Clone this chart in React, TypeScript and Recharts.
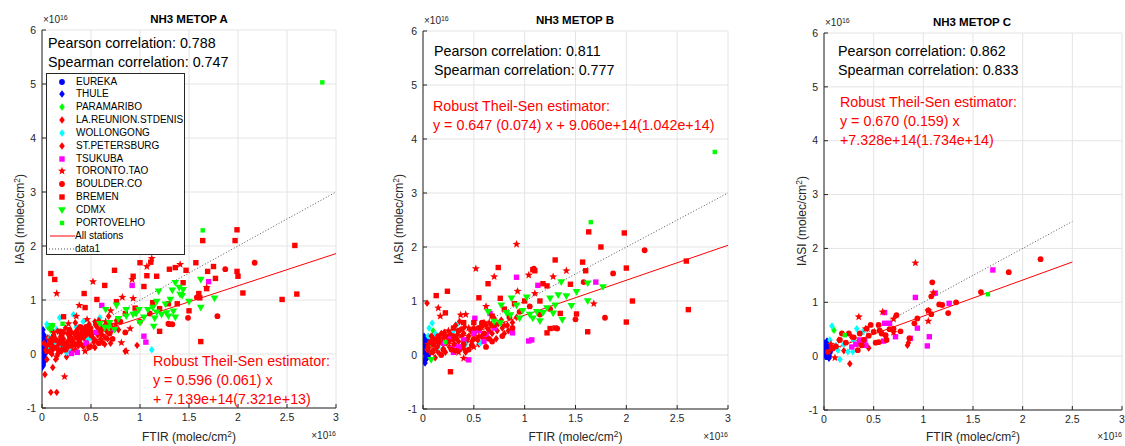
import { CartesianGrid, ReferenceLine, Scatter, ScatterChart, XAxis, YAxis } from "recharts";

type Pt = [number, number];

// values are in units of 1e16 molec/cm2
const X_TICKS = [0, 0.5, 1, 1.5, 2, 2.5, 3];
const Y_TICKS = [-1, 0, 1, 2, 3, 4, 5, 6];

const STATION_NAMES = [
  "EUREKA", "THULE", "PARAMARIBO", "LA.REUNION.STDENIS", "WOLLONGONG", "ST.PETERSBURG",
  "TSUKUBA", "TORONTO.TAO", "BOULDER.CO", "BREMEN", "CDMX", "PORTOVELHO",
];

const PANEL_TITLES = ["NH3 METOP A", "NH3 METOP B", "NH3 METOP C"];
const PEARSON = ["0.788", "0.811", "0.862"];
const SPEARMAN = ["0.747", "0.777", "0.833"];
const FIT_SLOPE = [0.596, 0.647, 0.67];
const FIT_INTERCEPT = [0.07139, 0.0906, 0.07328];
const FIT_XEND = [3, 3, 2.5];
const FIT_TEXT = [
  ["Robust Theil-Sen estimator:", "y = 0.596 (0.061) x", "+ 7.139e+14(7.321e+13)"],
  ["Robust Theil-Sen estimator:", "y = 0.647 (0.074) x + 9.060e+14(1.042e+14)"],
  ["Robust Theil-Sen estimator:", "y = 0.670 (0.159) x", "+7.328e+14(1.734e+14)"],
];

// ---------- METOP A ----------
const A_EUREKA: Pt[] = [[0.01, 0.05], [0.02, 0.12], [0.0, 0.2], [0.01, 0.3], [0.02, -0.05], [0.01, -0.12], [0.03, 0.02], [0.0, 0.38], [0.02, 0.25], [0.01, -0.2], [0.03, 0.15], [0.0, 0.08]];
const A_THULE: Pt[] = [[0.01, 0.45], [0.02, 0.35], [0.0, -0.25], [0.01, 0.0], [0.02, -0.15], [0.03, 0.3], [0.0, 0.18], [0.02, 0.1], [0.01, -0.08], [0.03, 0.22]];
const A_PARAMARIBO: Pt[] = [[0.06, 0.5], [0.11, 0.52], [0.09, 0.44]];
const A_LAREUNION: Pt[] = [[0.09, -0.71], [0.15, -0.71], [0.03, -0.38], [0.11, -0.25], [0.85, 0.05], [0.97, 0.16], [0.62, 0.21], [0.54, 0.12], [0.34, 0.08], [0.42, 0.14], [0.2, 0.05], [0.1, 0.0], [0.25, -0.05], [0.3, 0.3], [0.15, 0.1], [0.05, -0.1], [0.45, 0.25], [0.5, 0.42], [0.38, 0.35], [0.22, 0.28], [0.07, 0.2], [0.13, 0.3], [0.17, 0.18], [0.23, 0.12], [0.27, 0.25], [0.33, 0.38], [0.37, 0.15], [0.43, 0.3], [0.47, 0.45], [0.53, 0.22], [0.57, 0.35], [0.63, 0.5], [0.67, 0.28], [0.72, 0.45], [0.06, 0.3], [0.19, 0.32], [0.31, 0.05], [0.41, 0.48], [0.24, 0.48], [0.11, 0.08]];
const A_WOLLONGONG: Pt[] = [[0.05, 0.55], [0.18, 0.67], [0.32, 0.73], [0.59, 0.67], [1.12, 0.08], [0.25, 0.03], [0.47, 0.27], [0.08, 0.3], [0.12, 0.2], [0.2, 0.15], [0.35, 0.5], [0.42, 0.6], [0.15, 0.45], [0.28, 0.1], [0.5, 0.3], [0.06, 0.1]];
const A_STPETERSBURG: Pt[] = [[0.05, 0.15], [0.08, 0.25], [0.12, 0.35], [0.18, 0.2], [0.22, 0.4], [0.28, 0.32], [0.32, 0.22], [0.36, 0.45], [0.4, 0.18], [0.46, 0.38], [0.52, 0.3], [0.56, 0.5], [0.6, 0.38], [0.66, 0.42], [0.7, 0.2], [0.26, 0.12], [0.14, -0.1], [0.08, 0.05], [0.02, 0.2], [0.16, 0.42], [0.48, 0.55], [0.58, 0.62], [0.68, 0.7], [0.78, 0.45], [0.34, 0.58], [0.04, 0.08], [0.1, 0.22], [0.2, 0.3], [0.3, 0.4], [0.4, 0.36], [0.5, 0.48], [0.6, 0.28], [0.7, 0.55], [0.16, 0.0], [0.26, 0.38], [0.36, 0.3], [0.46, 0.2], [0.56, 0.4], [0.66, 0.55], [0.76, 0.62], [0.44, 0.42], [0.54, 0.6], [0.64, 0.18], [0.12, 0.3], [0.22, 0.18]];
const A_TSUKUBA: Pt[] = [[0.92, 1.27], [1.7, 1.34], [1.04, 0.33], [1.06, 0.22], [0.61, 0.9], [0.36, 0.03], [0.73, 0.46], [0.3, 0.01], [0.55, 0.4], [0.45, 0.2]];
const A_TORONTO: Pt[] = [[0.15, 1.12], [0.52, 1.34], [0.38, 0.9], [0.9, 0.47], [0.86, 0.05], [0.23, -0.42], [1.41, 1.66], [1.12, 1.77], [1.07, 1.62], [0.92, 1.38], [0.93, 1.03], [0.46, 0.64], [0.59, 0.51], [0.27, 0.56], [0.35, 0.7], [0.29, 0.36], [0.81, 0.21], [1.68, 1.23], [0.7, 0.8], [0.82, 1.05], [0.1, 0.3], [0.2, 0.1], [0.4, 0.45], [0.55, 0.25], [0.65, 0.6], [0.15, -0.05], [0.3, 0.2], [0.5, 0.15], [0.12, 0.4], [0.62, 0.35], [0.75, 0.55], [0.08, 0.18], [0.44, 0.05]];
const A_BOULDER: Pt[] = [[1.87, 1.57], [2.17, 1.69], [1.79, 0.7], [1.49, 0.67], [1.33, 0.55], [1.29, 0.56], [1.58, 1.05], [0.7, 0.5], [0.6, 0.45], [0.5, 0.35], [0.4, 0.3], [0.35, 0.4], [0.25, 0.2], [0.2, 0.35], [0.1, 0.15], [0.15, 0.25], [0.3, 0.15], [0.45, 0.5], [0.55, 0.55], [0.65, 0.3], [0.8, 0.6], [0.85, 0.4], [0.05, 0.05], [0.18, 0.05], [0.28, 0.45], [0.38, 0.22], [0.48, 0.12], [0.58, 0.2], [0.72, 0.28], [1.0, 0.6], [1.1, 0.75], [0.09, 0.25], [0.19, 0.42], [0.29, 0.28], [0.39, 0.5], [0.49, 0.38], [0.59, 0.52], [0.69, 0.38], [0.24, 0.08], [0.34, 0.18], [0.44, 0.35]];
const A_BREMEN: Pt[] = [[1.99, 2.3], [1.64, 2.1], [1.97, 2.1], [2.58, 2.01], [1.57, 1.69], [1.75, 1.62], [1.99, 1.53], [2.0, 1.44], [1.69, 1.53], [1.77, 1.4], [1.47, 1.55], [1.3, 1.57], [1.36, 1.6], [1.07, 1.45], [1.17, 1.44], [1.0, 1.69], [1.11, 1.7], [2.05, 1.13], [2.6, 1.11], [2.45, 1.01], [0.09, 1.49], [0.13, 1.38], [0.22, 0.69], [0.43, 1.12], [0.74, 1.55], [0.64, 1.27], [0.56, 1.01], [0.76, 0.97], [0.44, 0.86], [1.62, 0.23], [1.5, 0.8], [1.38, 0.93], [1.61, 1.04], [1.68, 1.21], [1.6, 1.12], [1.04, 1.25], [0.93, 1.44], [1.13, 0.95], [1.2, 0.84], [1.31, 0.55], [1.2, 0.42], [1.29, 0.93], [1.44, 1.32], [0.85, 0.75], [0.95, 0.85], [0.35, 0.3], [0.2, 0.25], [0.6, 0.45], [0.42, 0.4], [0.12, 0.12]];
const A_CDMX: Pt[] = [[1.62, 1.38], [1.76, 1.03], [1.62, 0.86], [1.5, 0.97], [1.36, 1.32], [1.4, 1.23], [1.44, 1.19], [1.43, 1.08], [1.33, 1.18], [1.19, 1.16], [1.31, 1.01], [1.26, 0.92], [1.17, 0.97], [1.13, 0.86], [1.17, 0.77], [1.15, 0.66], [1.22, 0.73], [1.29, 0.7], [1.36, 0.68], [1.34, 0.79], [1.14, 0.51], [0.65, 0.82], [0.76, 0.9], [0.86, 0.82], [0.96, 0.75], [0.99, 0.82], [1.08, 0.82], [0.93, 0.73], [0.86, 0.7], [0.78, 0.65], [0.69, 0.58], [0.68, 0.49], [0.74, 0.45], [1.04, 0.68], [1.0, 0.58], [0.59, 0.56], [0.64, 0.49], [1.27, 0.76], [1.41, 1.1], [0.1, 0.52]];
const A_PORTOVELHO: Pt[] = [[2.86, 5.03], [1.64, 2.29], [0.21, 0.56]];

// ---------- METOP B ----------
const B_EUREKA: Pt[] = [[0.01, 0.05], [0.02, 0.15], [0.0, 0.25], [0.03, -0.05], [0.01, -0.12], [0.04, 0.1], [0.02, 0.3], [0.05, 0.0], [0.0, 0.12], [0.03, 0.2]];
const B_THULE: Pt[] = [[0.01, 0.35], [0.02, -0.15], [0.04, 0.05], [0.0, 0.18], [0.03, -0.08], [0.05, 0.25], [0.02, 0.08]];
const B_PARAMARIBO: Pt[] = [[0.06, 0.2], [0.1, 0.45]];
const B_LAREUNION: Pt[] = [[0.04, 0.96], [0.1, 0.3], [0.2, 0.2], [0.3, 0.1], [0.15, 0.05], [0.25, 0.35], [0.35, 0.25], [0.45, 0.35], [0.55, 0.2], [0.65, 0.45], [0.05, 0.15], [0.12, -0.05], [0.4, 0.4], [0.5, 0.5], [0.6, 0.6], [0.07, 0.25], [0.13, 0.12], [0.17, 0.3], [0.23, 0.22], [0.27, 0.4], [0.33, 0.3], [0.37, 0.12], [0.43, 0.25], [0.47, 0.45], [0.53, 0.3], [0.57, 0.5], [0.63, 0.35], [0.67, 0.55], [0.73, 0.45], [0.77, 0.65], [0.83, 0.55], [0.11, 0.38], [0.21, 0.42], [0.31, 0.2], [0.41, 0.52]];
const B_WOLLONGONG: Pt[] = [[0.09, 0.59], [0.33, 0.55], [0.06, 0.5], [0.56, 0.22], [0.12, 0.4], [0.2, 0.3], [0.3, 0.45], [0.15, 0.15], [0.05, 0.35], [0.42, 0.2]];
const B_STPETERSBURG: Pt[] = [[0.08, 0.35], [0.18, 0.4], [0.28, 0.3], [0.38, 0.35], [0.48, 0.25], [0.58, 0.35], [0.68, 0.4], [0.78, 0.5], [0.22, 0.05], [0.32, 0.55], [0.42, 0.05], [0.52, 0.45], [0.62, 0.55], [0.14, 0.15], [0.72, 0.3], [0.88, 0.6], [0.36, 0.62], [0.26, 0.15], [0.04, 0.1], [0.1, 0.05], [0.16, 0.22], [0.24, 0.32], [0.34, 0.38], [0.44, 0.3], [0.54, 0.28], [0.64, 0.48], [0.74, 0.58], [0.84, 0.45], [0.2, 0.38], [0.3, 0.28], [0.4, 0.12], [0.5, 0.4], [0.6, 0.3], [0.7, 0.68], [0.8, 0.4], [0.92, 0.7]];
const B_TSUKUBA: Pt[] = [[0.92, 1.44], [1.13, 1.29], [1.7, 1.35], [0.45, -0.09], [1.04, 0.26], [1.07, 0.28], [0.88, 0.41], [0.66, 0.77], [0.51, 0.68], [0.29, 0.12], [0.6, 0.25], [0.5, 0.4], [0.35, 0.15], [0.7, 0.5], [0.25, 0.3], [0.4, 0.28], [0.55, 0.45], [0.3, 0.05], [0.62, 0.38], [0.2, 0.22]];
const B_TORONTO: Pt[] = [[0.92, 2.05], [0.52, 1.6], [0.7, 1.45], [1.04, 1.48], [1.28, 1.45], [1.41, 1.56], [1.68, 0.95], [0.15, 0.87], [0.17, 0.72], [0.37, 0.74], [0.42, 0.75], [0.4, -0.06], [1.1, 1.14], [0.93, 1.18], [0.62, 0.9], [0.2, 0.3], [0.3, 0.2], [0.45, 0.5], [0.55, 0.35], [0.1, 0.1], [0.25, 0.45], [0.65, 0.6], [0.8, 0.55], [0.35, 0.05], [0.05, 0.2], [0.5, 0.15]];
const B_BOULDER: Pt[] = [[2.18, 1.94], [1.87, 1.51], [1.79, 0.69], [1.5, 0.66], [1.32, 0.49], [1.09, 1.6], [1.58, 1.35], [0.1, 0.2], [0.2, 0.1], [0.3, 0.35], [0.4, 0.2], [0.5, 0.3], [0.6, 0.4], [0.7, 0.55], [0.15, 0.35], [0.25, 0.25], [0.35, 0.45], [0.45, 0.1], [0.55, 0.5], [0.65, 0.3], [0.75, 0.6], [0.85, 0.7], [0.95, 0.8], [1.05, 0.9], [1.15, 0.75], [1.25, 0.85], [0.08, 0.05], [0.18, 0.0], [0.32, 0.08], [0.62, 0.15], [0.12, 0.28], [0.22, 0.35], [0.28, 0.1], [0.38, 0.48], [0.48, 0.18], [0.58, 0.6], [0.68, 0.25], [0.78, 0.35], [0.88, 0.5]];
const B_BREMEN: Pt[] = [[1.63, 2.28], [1.98, 2.26], [1.75, 2.0], [1.3, 1.76], [1.57, 1.72], [2.0, 1.61], [2.59, 1.74], [2.61, 0.84], [2.06, 1.0], [2.0, 0.61], [1.62, 0.43], [1.22, 0.41], [1.51, 0.76], [1.45, 1.31], [1.18, 1.32], [1.22, 1.28], [1.6, 1.56], [0.74, 1.62], [0.64, 1.32], [0.55, 1.06], [0.24, 1.18], [0.13, 1.1], [0.22, 0.78], [0.27, -0.31], [1.08, 1.58], [1.1, 1.56], [0.76, 1.05], [1.35, 0.77], [1.25, 0.49], [1.3, 0.5], [0.9, 0.95], [1.0, 1.0], [0.8, 0.85], [1.15, 1.0], [0.4, 0.6], [0.3, 0.5], [0.15, 0.25], [0.58, 0.55], [0.5, 0.6], [0.68, 0.72]];
const B_CDMX: Pt[] = [[1.37, 0.65], [1.46, 0.91], [1.51, 1.17], [1.62, 1.0], [1.77, 1.26], [1.62, 1.33], [1.36, 1.35], [1.41, 1.09], [1.33, 1.11], [1.3, 0.92], [1.28, 0.77], [1.15, 0.63], [1.08, 0.68], [1.02, 1.07], [0.92, 0.92], [0.87, 1.05], [0.77, 0.92], [0.64, 0.8], [0.95, 0.68], [0.86, 0.74], [0.76, 0.59], [1.22, 0.87], [0.08, -0.09], [1.12, 0.8], [1.18, 0.78], [0.98, 0.82], [0.82, 0.78], [1.05, 0.75], [0.7, 0.62], [1.25, 1.05]];
const B_PORTOVELHO: Pt[] = [[2.87, 3.76], [1.65, 2.46], [0.22, 0.24]];

// ---------- METOP C ----------
const C_EUREKA: Pt[] = [[0.02, 0.05], [0.03, 0.15], [0.01, 0.1], [0.04, 0.22], [0.05, 0.0], [0.02, 0.18], [0.06, 0.08], [0.03, -0.02], [0.01, 0.25], [0.05, 0.12]];
const C_THULE: Pt[] = [[0.03, 0.28], [0.02, 0.02], [0.04, 0.05], [0.06, 0.2], [0.05, -0.04], [0.07, 0.12]];
const C_PARAMARIBO: Pt[] = [[0.1, 0.48]];
const C_LAREUNION: Pt[] = [[0.26, -0.14], [0.84, 0.2], [0.2, 0.1], [0.28, 0.35], [0.45, 0.15]];
const C_WOLLONGONG: Pt[] = [[0.08, 0.56], [0.33, 0.51], [0.16, -0.06], [0.24, 0.08], [0.29, 0.08], [0.14, 0.11], [0.39, 0.45], [0.06, 0.3], [0.12, 0.2], [0.2, 0.22], [0.3, 0.3]];
const C_STPETERSBURG: Pt[] = [[0.1, 0.15], [0.15, 0.3], [0.35, 0.25], [0.85, 0.25]];
const C_TSUKUBA: Pt[] = [[1.7, 1.6], [0.92, 1.09], [1.12, 1.17], [1.26, 0.98], [0.61, 0.81], [0.61, 0.61], [0.66, 0.61], [0.94, 0.52], [0.72, 0.36], [0.6, 0.28], [1.06, 0.36], [1.04, 0.19], [0.87, 0.33], [0.41, 0.3], [0.36, 0.3], [0.28, 0.17], [0.42, 0.2], [0.32, 0.22]];
const C_TORONTO: Pt[] = [[0.92, 1.73], [0.59, 0.82], [0.7, 0.69], [0.7, 0.44], [1.05, 0.84], [1.05, 0.65], [1.1, 1.18], [0.35, 0.73], [0.11, -0.03], [0.42, 0.51], [0.07, 0.22]];
const C_BOULDER: Pt[] = [[2.18, 1.8], [1.86, 1.56], [1.58, 1.19], [1.09, 1.37], [1.08, 1.11], [1.16, 0.96], [1.19, 0.95], [1.33, 1.0], [1.25, 0.8], [1.08, 0.78], [1.05, 0.85], [0.94, 0.7], [0.91, 0.61], [0.86, 0.33], [0.73, 0.76], [0.77, 0.46], [0.7, 0.51], [0.62, 0.39], [0.63, 0.3], [0.55, 0.26], [0.52, 0.25], [0.56, 0.48], [0.55, 0.58], [0.47, 0.58], [0.43, 0.51], [0.36, 0.42], [0.34, 0.11], [0.18, 0.42], [0.25, 0.42], [0.16, 0.3], [0.08, 0.14], [0.04, 0.08], [0.3, 0.35], [0.45, 0.38], [0.5, 0.45], [0.58, 0.42], [0.66, 0.5], [0.38, 0.2], [0.22, 0.25], [0.12, 0.18], [0.4, 0.3]];
const C_BREMEN: Pt[] = [];
const C_CDMX: Pt[] = [];
const C_PORTOVELHO: Pt[] = [[1.65, 1.15], [0.21, 0.39]];

const SERIES_A = [A_EUREKA, A_THULE, A_PARAMARIBO, A_LAREUNION, A_WOLLONGONG, A_STPETERSBURG, A_TSUKUBA, A_TORONTO, A_BOULDER, A_BREMEN, A_CDMX, A_PORTOVELHO];
const SERIES_B = [B_EUREKA, B_THULE, B_PARAMARIBO, B_LAREUNION, B_WOLLONGONG, B_STPETERSBURG, B_TSUKUBA, B_TORONTO, B_BOULDER, B_BREMEN, B_CDMX, B_PORTOVELHO];
const SERIES_C = [C_EUREKA, C_THULE, C_PARAMARIBO, C_LAREUNION, C_WOLLONGONG, C_STPETERSBURG, C_TSUKUBA, C_TORONTO, C_BOULDER, C_BREMEN, C_CDMX, C_PORTOVELHO];
const ALL_SERIES = [SERIES_A, SERIES_B, SERIES_C];

// marker style per station (same order as STATION_NAMES)
const MARKERS = [
  { kind: "circle", color: "#0000ff" },
  { kind: "diamond", color: "#0000ff" },
  { kind: "diamond", color: "#00ff00" },
  { kind: "diamond", color: "#ff0000" },
  { kind: "diamond", color: "#00ffff" },
  { kind: "diamond", color: "#ff0000" },
  { kind: "square", color: "#ff00ff" },
  { kind: "star", color: "#ff0000" },
  { kind: "circle", color: "#ff0000" },
  { kind: "square", color: "#ff0000" },
  { kind: "triangle", color: "#00ff00" },
  { kind: "small", color: "#00ff00" },
];

const FONT = '"Liberation Sans", Arial, Helvetica, sans-serif';
const AXIS = "#262626";

// layout of each panel (plot box in page pixels)
const LAYOUT = [
  { left: 0, width: 380, plot: { l: 42, r: 336, t: 30, b: 408 }, title: [189, 20], exTop: [43, 20], exBot: [336, 436], yLab: [20, 219], stats: [48, 44], fit: [153, 362] },
  { left: 380, width: 380, plot: { l: 423, r: 728, t: 31, b: 409 }, title: [575, 21], exTop: [424, 21], exBot: [728, 437], yLab: [399, 219], stats: [434, 52], fit: [433, 107] },
  { left: 760, width: 365, plot: { l: 824, r: 1122, t: 33, b: 410 }, title: [972, 23], exTop: [825, 23], exBot: [1122, 437], yLab: [802, 221], stats: [838, 52], fit: [840, 103] },
];

const SUP: any = { fontSize: "0.7em", position: "relative", top: "-0.45em", verticalAlign: "baseline", lineHeight: 0 };

function starPath(cx: number, cy: number, R: number, r: number) {
  let d = "";
  for (let i = 0; i < 10; i++) {
    const a = -Math.PI / 2 + (i * Math.PI) / 5;
    const rad = i % 2 === 0 ? R : r;
    d += (i === 0 ? "M" : "L") + (cx + rad * Math.cos(a)).toFixed(2) + "," + (cy + rad * Math.sin(a)).toFixed(2);
  }
  return d + "Z";
}

function Marker({ cx, cy, kind, color }: { cx: number; cy: number; kind: string; color: string }) {
  if (cx == null || cy == null) return null;
  switch (kind) {
    case "circle":
      return <circle cx={cx} cy={cy} r={2.9} fill={color} />;
    case "diamond":
      return <path d={`M${cx},${cy - 3.7}L${cx + 2.8},${cy}L${cx},${cy + 3.7}L${cx - 2.8},${cy}Z`} fill={color} />;
    case "square":
      return <rect x={cx - 2.7} y={cy - 2.7} width={5.4} height={5.4} fill={color} />;
    case "small":
      return <rect x={cx - 2.2} y={cy - 2.2} width={4.4} height={4.4} fill={color} />;
    case "star":
      return <path d={starPath(cx, cy, 4.2, 1.8)} fill={color} />;
    case "triangle":
      return <path d={`M${cx - 3.9},${cy - 2.8}L${cx + 3.9},${cy - 2.8}L${cx},${cy + 3.9}Z`} fill={color} />;
    default:
      return null;
  }
}

function Txt({ x, y, size, color = "#000", bold, anchor, children }: any) {
  return (
    <div
      style={{
        position: "absolute",
        left: x,
        top: y - size * 0.6,
        fontSize: size,
        lineHeight: `${size * 1.2}px`,
        whiteSpace: "nowrap",
        color,
        fontWeight: bold ? "bold" : "normal",
        transform: anchor === "middle" ? "translateX(-50%)" : anchor === "end" ? "translateX(-100%)" : undefined,
      }}
    >
      {children}
    </div>
  );
}

function Exponent({ x, y, anchor }: { x: number; y: number; anchor?: string }) {
  return (
    <Txt x={x} y={y} size={10} color={AXIS} anchor={anchor}>
      ×10<span style={SUP}>16</span>
    </Txt>
  );
}

function Panel({ idx }: { idx: number }) {
  const L = LAYOUT[idx];
  const series = ALL_SERIES[idx];
  const slope = FIT_SLOPE[idx];
  const b = FIT_INTERCEPT[idx];
  const xEnd = FIT_XEND[idx];
  const yW = 30;
  const xH = 30;
  const margin = {
    top: L.plot.t,
    bottom: 446 - L.plot.b - xH,
    left: L.plot.l - L.left - yW,
    right: L.left + L.width - L.plot.r,
  };
  const tickStyle = { fill: AXIS, fontSize: 10.5, fontFamily: FONT };
  return (
    <>
      <div style={{ position: "absolute", left: L.left, top: 0 }}>
        <ScatterChart width={L.width} height={446} margin={margin}>
          <CartesianGrid stroke="#e4e4e4" />
          <XAxis type="number" dataKey="x" domain={[0, 3]} ticks={X_TICKS} interval={0} height={xH} stroke={AXIS} tickSize={-4} tickMargin={10} tick={tickStyle} allowDataOverflow />
          <YAxis type="number" dataKey="y" domain={[-1, 6]} ticks={Y_TICKS} interval={0} width={yW} stroke={AXIS} tickSize={-4} tickMargin={10} tick={tickStyle} allowDataOverflow />
          <XAxis xAxisId="top" orientation="top" type="number" domain={[0, 3]} ticks={X_TICKS} interval={0} height={0} stroke={AXIS} tickSize={-4} tick={false} />
          <YAxis yAxisId="right" orientation="right" type="number" domain={[-1, 6]} ticks={Y_TICKS} interval={0} width={0} stroke={AXIS} tickSize={-4} tick={false} />
          {series.map((pts, i) => (
            <Scatter
              key={STATION_NAMES[i]}
              name={STATION_NAMES[i]}
              data={pts.map(([x, y]) => ({ x, y }))}
              isAnimationActive={false}
              shape={(p: any) => <Marker cx={p.cx} cy={p.cy} kind={MARKERS[i].kind} color={MARKERS[i].color} />}
            />
          ))}
          <ReferenceLine segment={[{ x: 0, y: 0 }, { x: xEnd, y: xEnd }]} stroke="#555" strokeDasharray="1 2" />
          <ReferenceLine segment={[{ x: 0, y: b }, { x: xEnd, y: b + slope * xEnd }]} stroke="#ff0000" strokeWidth={1} />
        </ScatterChart>
      </div>
      <Txt x={L.title[0]} y={L.title[1]} size={11.5} bold anchor="middle">{PANEL_TITLES[idx]}</Txt>
      <Exponent x={L.exTop[0]} y={L.exTop[1]} />
      <Exponent x={L.exBot[0]} y={L.exBot[1]} anchor="end" />
      <Txt x={(L.plot.l + L.plot.r) / 2} y={437} size={12} color={AXIS} anchor="middle">
        FTIR (molec/cm<span style={SUP}>2</span>)
      </Txt>
      <div
        style={{
          position: "absolute",
          left: L.yLab[0],
          top: L.yLab[1],
          transform: "translate(-50%, -50%) rotate(-90deg)",
          fontSize: 12,
          color: AXIS,
          whiteSpace: "nowrap",
          lineHeight: "14px",
        }}
      >
        IASI (molec/cm<span style={SUP}>2</span>)
      </div>
      <Txt x={L.stats[0]} y={L.stats[1]} size={14.3}>Pearson correlation: {PEARSON[idx]}</Txt>
      <Txt x={L.stats[0]} y={L.stats[1] + 19} size={14.3}>Spearman correlation: {SPEARMAN[idx]}</Txt>
      {FIT_TEXT[idx].map((line, k) => (
        <Txt key={k} x={L.fit[0]} y={L.fit[1] + k * 18.8} size={14.3} color="#ff0000">{line}</Txt>
      ))}
    </>
  );
}

function LegendIcon({ kind, color }: { kind: string; color: string }) {
  return (
    <svg width={30} height={12} style={{ position: "absolute", left: 0, top: 0 }}>
      {kind === "line" && <line x1={3} y1={6} x2={28} y2={6} stroke="#ff0000" strokeWidth={1} />}
      {kind === "dotted" && <line x1={2} y1={6} x2={27} y2={6} stroke="#555" strokeDasharray="1 2" strokeWidth={1} />}
      {kind !== "line" && kind !== "dotted" && <Marker cx={15} cy={6} kind={kind} color={color} />}
    </svg>
  );
}

function StationLegend() {
  const rows = [
    ...STATION_NAMES.map((n, i) => ({ label: n, kind: MARKERS[i].kind, color: MARKERS[i].color })),
    { label: "All stations", kind: "line", color: "#ff0000" },
    { label: "data1", kind: "dotted", color: "#555" },
  ];
  return (
    <div style={{ position: "absolute", left: 46, top: 73, width: 137, height: 180, border: `1px solid ${AXIS}`, background: "#fff" }}>
      {rows.map((r, i) => (
        <div key={r.label} style={{ position: "absolute", left: 0, top: 1.5 + i * 12.85, height: 12, width: 135 }}>
          <LegendIcon kind={r.kind} color={r.color} />
          <span style={{ position: "absolute", left: r.kind === "line" || r.kind === "dotted" ? 28 : 29, top: 0, fontSize: 10, lineHeight: "12px", color: "#000" }}>{r.label}</span>
        </div>
      ))}
    </div>
  );
}

export default function App() {
  return (
    <div style={{ position: "absolute", left: 0, top: 0, width: 1125, height: 446, background: "#fff", fontFamily: FONT, overflow: "hidden" }}>
      <Panel idx={0} />
      <Panel idx={1} />
      <Panel idx={2} />
      <StationLegend />
    </div>
  );
}
